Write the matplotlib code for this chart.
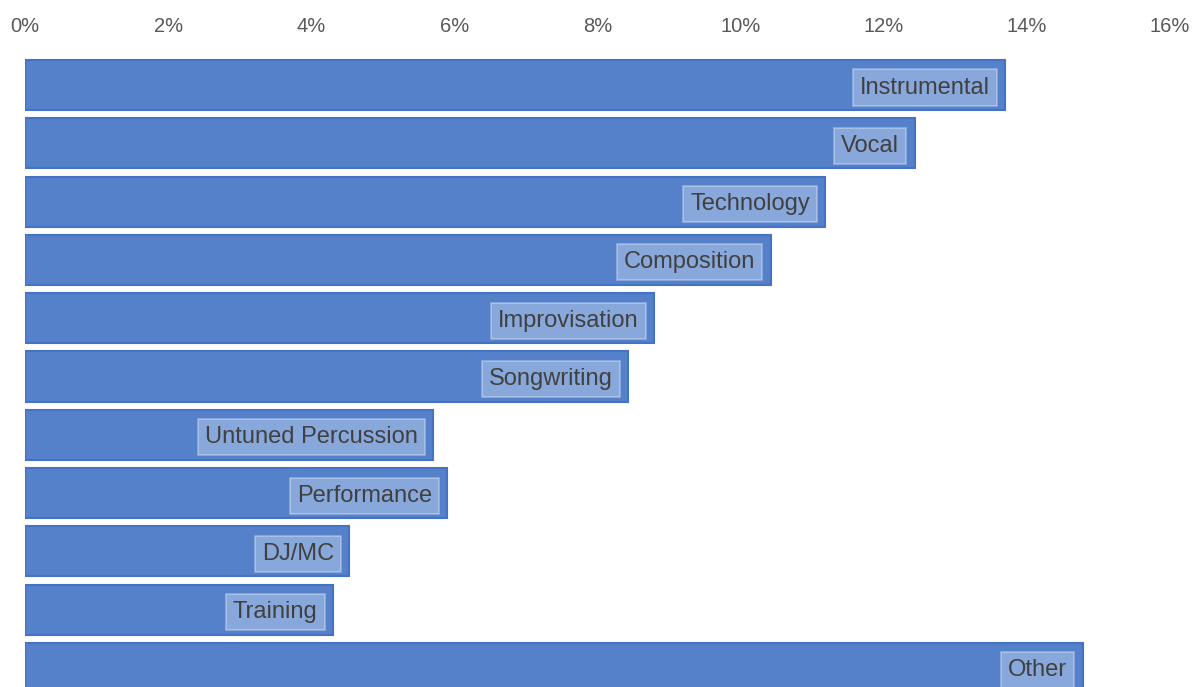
import matplotlib
matplotlib.use("Agg")
import matplotlib.pyplot as plt
from matplotlib.ticker import FuncFormatter

plt.rcParams['font.family'] = ['Liberation Sans', 'DejaVu Sans']

categories = ["Instrumental", "Vocal", "Technology", "Composition", "Improvisation",
              "Songwriting", "Untuned Percussion", "Performance", "DJ/MC", "Training", "Other"]
shares = [13.7, 12.43, 11.18, 10.42, 8.79, 8.43, 5.7, 5.9, 4.53, 4.3, 14.78]
x_ticks = [0, 2, 4, 6, 8, 10, 12, 14, 16]

W, H = 1200, 687
fig = plt.figure(figsize=(W / 100, H / 100), dpi=100)
left_px, right_px, top_px = 25, 1170, 55
ax = fig.add_axes([left_px / W, 0, (right_px - left_px) / W, (H - top_px) / H])

step = 58.3
first_center = 85
y_top = -(first_center - top_px) / step
y_bot = (H - first_center) / step

positions = list(range(len(categories)))
ax.barh(positions, shares, height=0.86, color="#5581CB", edgecolor="#4472C4", linewidth=1.5)

for y, v, name in zip(positions, shares, categories):
    ax.annotate(name, xy=(v, y), xytext=(-11, 0), textcoords="offset points",
                ha="right", va="center_baseline", fontsize=17, color="#404040",
                bbox=dict(boxstyle="square,pad=0.3", facecolor=(1, 1, 1, 0.3),
                          edgecolor=(1, 1, 1, 0.35), linewidth=1.2))

ax.set_xlim(0, 16)
ax.set_ylim(y_bot, y_top)
ax.set_xticks(x_ticks)
ax.xaxis.set_major_formatter(FuncFormatter(lambda v, p: f"{v:.0f}%"))
ax.xaxis.tick_top()
ax.tick_params(axis="x", length=0, pad=13.5, labelsize=14.5, labelcolor="#595959")
ax.set_yticks([])
for s in ax.spines.values():
    s.set_visible(False)

fig.savefig("out.png", dpi=100)
